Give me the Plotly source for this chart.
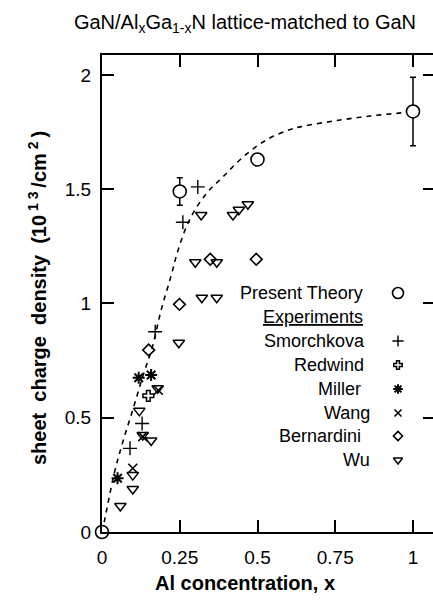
import plotly.graph_objects as go

# ---------------- data ----------------
theory_x = [0.0, 0.25, 0.5, 1.0]
theory_y = [0.0, 1.49, 1.63, 1.84]
theory_err = [None, 0.06, None, 0.15]

curve_x = [0, 0.008, 0.04, 0.066, 0.098, 0.131, 0.162, 0.19, 0.222, 0.244, 0.281,
           0.335, 0.389, 0.453, 0.528, 0.603, 0.646, 0.754, 0.861, 0.963, 1.0]
curve_y = [0, 0.05, 0.26, 0.39, 0.53, 0.68, 0.81, 0.97, 1.12, 1.23, 1.365,
           1.48, 1.554, 1.64, 1.715, 1.76, 1.775, 1.80, 1.82, 1.834, 1.84]

smorchkova_x = [0.09, 0.129, 0.171, 0.26, 0.308]
smorchkova_y = [0.366, 0.475, 0.876, 1.355, 1.51]

redwind_x = [0.149]
redwind_y = [0.596]

miller_x = [0.05, 0.118, 0.158]
miller_y = [0.235, 0.675, 0.687]

wang_x = [0.099, 0.131, 0.181]
wang_y = [0.279, 0.417, 0.62]

bernardini_x = [0.150, 0.249, 0.348, 0.496]
bernardini_y = [0.796, 0.996, 1.193, 1.193]

wu_x = [0.059, 0.099, 0.099, 0.12, 0.131, 0.158, 0.179, 0.247, 0.30, 0.321,
        0.369, 0.369, 0.319, 0.421, 0.44, 0.469]
wu_y = [0.114, 0.188, 0.249, 0.53, 0.424, 0.40, 0.629, 0.828, 1.18, 1.025,
        1.18, 1.025, 1.387, 1.387, 1.41, 1.434]

x_ticks = [0, 0.25, 0.5, 0.75, 1]
x_ticklabels = ["0", "0.25", "0.5", "0.75", "1"]
y_ticks = [0, 0.5, 1, 1.5, 2]
y_ticklabels = ["0", "0.5", "1", "1.5", "2"]

legend_labels = ["Present Theory", "Smorchkova", "Redwind", "Miller", "Wang", "Bernardini", "Wu"]

# ---------------- layout constants ----------------
W, H = 433, 607
ML, MR, MT, MB = 102, 0, 55, 75
PW, PH = W - ML - MR, H - MT - MB
XR = [0, 1.0643]
YR = [0, 2.087]
FONT = "Liberation Sans, Arial, Helvetica, sans-serif"


def px_to_paper(px, py):
    return (px - ML) / PW, (H - MB - py) / PH


def px_to_data(px, py):
    xp, yp = px_to_paper(px, py)
    return XR[0] + xp * (XR[1] - XR[0]), YR[0] + yp * (YR[1] - YR[0])


# marker styles: (symbol, plot size, legend size, line width, fill)
styles = {
    "Present Theory": ("circle", 13, 11, 1.6, "white"),
    "Smorchkova": ("cross-thin-open", 10, 8, 1.4, "black"),
    "Redwind": ("cross-open", 9, 7, 1.5, "black"),
    "Miller": ("asterisk-open", 10, 8, 2.0, "black"),
    "Wang": ("x-thin-open", 9, 7, 1.6, "black"),
    "Bernardini": ("diamond-open", 9, 7, 1.6, "black"),
    "Wu": ("triangle-down-open", 10, 8, 1.5, "black"),
}


def marker(name, legend=False):
    sym, size, lsize, lw, fill = styles[name]
    return dict(symbol=sym, size=lsize if legend else size, color=fill,
                line=dict(width=lw, color="black"))


fig = go.Figure()

# theory curve
fig.add_trace(go.Scatter(x=curve_x, y=curve_y, mode="lines",
                         line=dict(color="black", width=1.6, dash="5px,5px", shape="spline"),
                         showlegend=False, hoverinfo="skip"))

series = [
    ("Smorchkova", smorchkova_x, smorchkova_y),
    ("Redwind", redwind_x, redwind_y),
    ("Miller", miller_x, miller_y),
    ("Wang", wang_x, wang_y),
    ("Bernardini", bernardini_x, bernardini_y),
    ("Wu", wu_x, wu_y),
]
for name, xs, ys in series:
    fig.add_trace(go.Scatter(x=xs, y=ys, mode="markers", name=name,
                             marker=marker(name), showlegend=False))

# theory points with error bars
fig.add_trace(go.Scatter(x=theory_x, y=theory_y, mode="markers", name="Present Theory",
                         error_y=dict(type="data", array=theory_err, color="black",
                                      thickness=1.5, width=3),
                         marker=marker("Present Theory"),
                         showlegend=False, cliponaxis=False))

# ---------------- custom legend (text left, symbol right) ----------------
legend_rows = [
    ("Present Theory", 365, 293),
    ("Smorchkova", 367, 341),
    ("Redwind", 366, 365),
    ("Miller", 363, 389),
    ("Wang", 372, 413),
    ("Bernardini", 363, 436),
    ("Wu", 372, 460),
]
sym_px = 398
annotations = []
for name, rx, ry in legend_rows:
    xp, yp = px_to_paper(rx, ry)
    annotations.append(dict(text=name, x=xp, y=yp, xref="paper", yref="paper",
                            xanchor="right", yanchor="middle", showarrow=False,
                            font=dict(size=18, family=FONT, color="black")))
    dx, dy = px_to_data(sym_px, ry)
    fig.add_trace(go.Scatter(x=[dx], y=[dy], mode="markers", showlegend=False,
                             marker=marker(name, legend=True), hoverinfo="skip"))

xp, yp = px_to_paper(365, 317)
annotations.append(dict(text="<u>Experiments</u>", x=xp, y=yp, xref="paper", yref="paper",
                        xanchor="right", yanchor="middle", showarrow=False,
                        font=dict(size=18, family=FONT, color="black")))

# axis titles
xp, yp = px_to_paper(245, 583)
annotations.append(dict(text="<b>Al concentration, x</b>", x=xp, y=yp, xref="paper", yref="paper",
                        xanchor="center", yanchor="middle", showarrow=False,
                        font=dict(size=20, family=FONT, color="black")))
xp, yp = px_to_paper(37, 298)
annotations.append(dict(text="<b>sheet  charge  density  (10<sup> 1 3 </sup>/cm<sup> 2 </sup>)</b>",
                        x=xp, y=yp, xref="paper", yref="paper", textangle=-90,
                        xanchor="center", yanchor="middle", showarrow=False,
                        font=dict(size=20, family=FONT, color="black")))

# dummy trace for the right-hand tick axis
fig.add_trace(go.Scatter(x=[None], y=[None], yaxis="y2", showlegend=False, hoverinfo="skip"))

fig.update_layout(
    width=W, height=H,
    margin=dict(l=ML, r=MR, t=MT, b=MB),
    paper_bgcolor="white", plot_bgcolor="white",
    font=dict(family=FONT, color="black"),
    title=dict(text="GaN/Al<sub>x</sub>Ga<sub>1-x</sub>N lattice-matched to GaN",
               x=245 / W, y=1 - 22 / H, xref="container", yref="container",
               xanchor="center", yanchor="middle",
               font=dict(size=20, family=FONT, color="black")),
    xaxis=dict(range=XR, tickvals=x_ticks, ticktext=x_ticklabels, ticks="inside",
               ticklen=12, tickwidth=1.5, tickcolor="black", showline=True, linewidth=2,
               linecolor="black", mirror="ticks", showgrid=False, zeroline=False,
               tickfont=dict(size=19, family=FONT), ticklabelstandoff=7),
    yaxis=dict(range=YR, tickvals=y_ticks, ticktext=y_ticklabels, ticks="inside",
               ticklen=12, tickwidth=1.5, tickcolor="black", showline=True, linewidth=2,
               linecolor="black", mirror=False, showgrid=False, zeroline=False,
               tickfont=dict(size=19, family=FONT), ticklabelstandoff=5),
    yaxis2=dict(range=YR, overlaying="y", side="right", tickvals=y_ticks, ticks="inside",
                ticklen=10, tickwidth=1.5, tickcolor="black", showticklabels=False,
                showline=False, showgrid=False, zeroline=False),
    annotations=annotations,
    showlegend=False,
)

fig.write_html("out.html")
